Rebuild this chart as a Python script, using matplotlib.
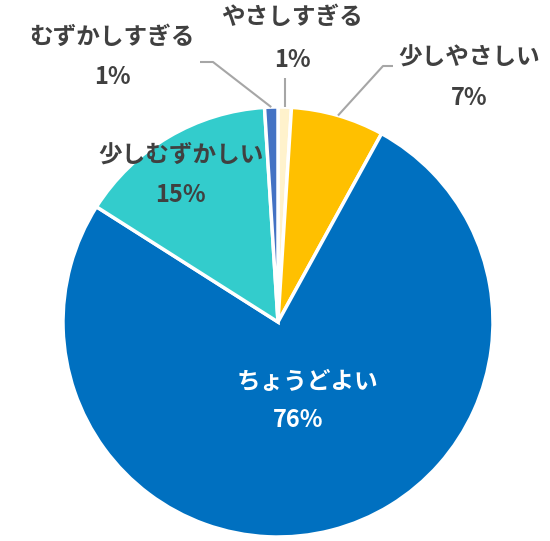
import matplotlib
matplotlib.use("Agg")
import matplotlib.pyplot as plt
import numpy as np

# answers, clockwise from the top
labels = ["やさしすぎる", "少しやさしい", "ちょうどよい", "少しむずかしい", "むずかしすぎる"]
values = [1, 7, 76, 15, 1]
colors = ["#FFF2CC", "#FFC000", "#0070C0", "#33CCCC", "#4472C4"]

W, H = 550, 541
R = 215.0           # pie radius in pixels
CX, CY = 278, 322   # pie centre in pixels (from top-left)


def px(x, y):
    # pixel position -> data coords (pie radius = 1)
    return (x - CX) / R, (CY - y) / R


fig = plt.figure(figsize=(W / 100, H / 100), dpi=100)
ax = fig.add_axes([0, 0, 1, 1])

wedges, _ = ax.pie(values, colors=colors, startangle=90, counterclock=False,
                   wedgeprops={"edgecolor": "white", "linewidth": 2.5})

ax.set_xlim(-CX / R, (W - CX) / R)
ax.set_ylim(-(H - CY) / R, CY / R)
ax.set_aspect("auto")
ax.axis("off")

font = ["Noto Sans CJK JP", "DejaVu Sans"]
gray = "#404040"

# label positions (name, percent) in pixels
name_pos = [(292, 17), (469, 58), (307, 382), (181, 155), (112, 37)]
pct_pos = [(292, 60), (469, 98), (298, 420), (180, 195), (112, 77)]
text_col = [gray, gray, "white", gray, gray]

for i in range(len(values)):
    x, y = px(*name_pos[i])
    ax.text(x, y, labels[i], ha="center", va="center", fontsize=17,
            fontweight="bold", color=text_col[i], family=font)
    x, y = px(*pct_pos[i])
    ax.text(x, y, f"{values[i]}%", ha="center", va="center", fontsize=17,
            fontweight="bold", color=text_col[i], family=font)

# leader lines for the small outside labels
elbows = {0: [(288, 78)], 1: [(383, 66), (393, 66)], 4: [(213, 62), (200, 62)]}
for i, pts in elbows.items():
    w = wedges[i]
    mid = np.deg2rad((w.theta1 + w.theta2) / 2)
    xs = [np.cos(mid) * 1.0]
    ys = [np.sin(mid) * 1.0]
    for p in pts:
        x, y = px(*p)
        xs.append(x)
        ys.append(y)
    if i == 0:
        xs[1] = xs[0]
    ax.plot(xs, ys, color="#A6A6A6", lw=1.5, solid_capstyle="butt")

fig.savefig("out.png", dpi=100)
